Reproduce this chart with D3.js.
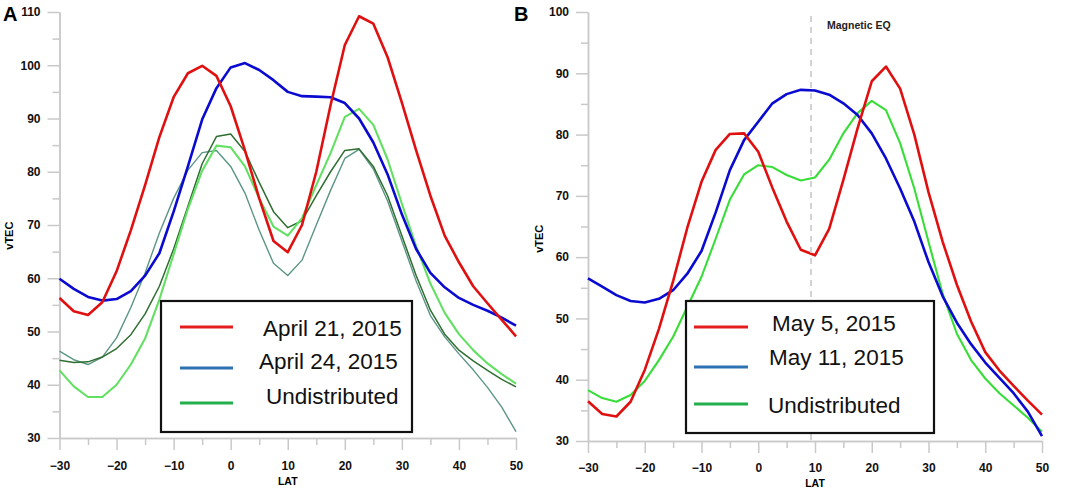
<!DOCTYPE html>
<html>
<head>
<meta charset="utf-8">
<script src="https://cdn.jsdelivr.net/npm/d3@7/dist/d3.min.js"></script>
<style>
	body { margin: 0; background: #fff; }
	svg { display: block; font-family: "Liberation Sans", Arial, sans-serif; }
</style>
</head>
<body>
<svg id="chart" width="1065" height="491"></svg>
<script>
// Data
var lat = [-30, -27.5, -25, -22.5, -20, -17.5, -15, -12.5, -10, -7.5, -5, -2.5, 0, 2.5, 5, 7.5,
	10, 12.5, 15, 17.5, 20, 22.5, 25, 27.5, 30, 32.5, 35, 37.5, 40, 42.5, 45, 47.5, 50];

// Panel A
var april21 = [56.3, 53.8, 53.1, 55.5, 61.3, 69, 77.5, 86.5, 94, 98.5, 99.9, 98, 92.3, 84, 75, 67,
	64.9, 70, 80, 92.5, 103.8, 109.2, 107.8, 101.5, 93, 84, 75.5, 68, 63, 58.5, 55.3, 52.2, 49.1];
var april24 = [59.9, 58, 56.5, 55.8, 56.1, 57.6, 60.5, 64.7, 72.5, 81, 89.8, 95.7, 99.6, 100.4, 99.1, 97.2,
	95, 94.2, 94.1, 94, 92.9, 90, 85.5, 79.5, 72, 65.5, 61, 58.3, 56.3, 55, 53.9, 52.6, 51.1];
var undistA1 = [42.7, 39.7, 37.7, 37.7, 40, 43.8, 48.7, 56, 64.5, 73, 80.2, 84.9, 84.6, 81, 75, 69.7,
	68, 71.3, 77.5, 83.5, 90.3, 91.8, 88.8, 82.3, 74, 66, 59, 53.5, 49.5, 46.5, 44, 42, 40.2];
var undistA2 = [44.6, 44.2, 44.3, 45.2, 46.8, 49.4, 53.3, 58.5, 65.5, 73.5, 81.5, 86.6, 87.1, 83.8, 78, 72.5,
	69.5, 70.8, 75.5, 80, 84, 84.3, 81, 75.5, 68, 60.5, 54, 49.5, 46.5, 44.5, 42.7, 41, 39.6];
var undistA3 = [46.3, 44.7, 43.8, 45.2, 48.8, 54.5, 61, 68.5, 75, 80.3, 83.6, 84, 81, 76, 69, 62.8,
	60.5, 63.4, 70, 76.5, 82.5, 84.2, 80.5, 74.5, 67, 59.5, 53, 49, 45.8, 42.8, 39.5, 35.8, 31.2];

// Panel B
var may5 = [36.5, 34.4, 34, 36.4, 41.6, 48.3, 56.1, 64.8, 72.3, 77.5, 80.1, 80.2, 77.2, 71.3, 65.8, 61.2,
	60.3, 64.6, 72.6, 81, 88.7, 91.1, 87.5, 80, 70.6, 62.5, 55.5, 49.5, 44.5, 41.5, 39, 36.6, 34.3];
var may11 = [56.55, 55.2, 53.8, 52.85, 52.6, 53.2, 54.6, 57.3, 61, 67.3, 74.2, 79.1, 82.1, 85.1, 86.6, 87.3,
	87.2, 86.5, 85.1, 83.2, 80.2, 76.1, 71.2, 65.8, 59.2, 53.6, 49.3, 45.8, 42.8, 40.3, 37.8, 34.8, 30.8];
var undistB = [38.3, 37, 36.4, 37.5, 39.8, 43.2, 47, 51.9, 56.8, 63, 69.4, 73.5, 75, 74.7, 73.4, 72.5,
	73, 75.9, 80.2, 83.5, 85.5, 84, 78.6, 71.2, 62.5, 54, 47.5, 43.2, 40.2, 37.8, 35.8, 33.8, 31.5];

var xTicks = [-30, -20, -10, 0, 10, 20, 30, 40, 50];
var xMinorTicks = [-25, -15, -5, 5, 15, 25, 35, 45];
var yTicksA = [30, 40, 50, 60, 70, 80, 90, 100, 110];
var yMinorA = [35, 45, 55, 65, 75, 85, 95, 105];
var yTicksB = [30, 40, 50, 60, 70, 80, 90, 100];
var yMinorB = [35, 45, 55, 65, 75, 85, 95];

var legendA = ["April 21, 2015", "April 24, 2015", "Undistributed"];
var legendB = ["May 5, 2015", "May 11, 2015", "Undistributed"];
var magneticEq = 9.3;

// Styles
var axisColor = "#c9c9c9",
	legendColors = ["#e41e1e", "#2f72b4", "#23b04c"];

var svg = d3.select("#chart");

var panelA = drawPanel({
	label: "A", labelX: 3,
	xRange: [59.5, 516], yDomain: [30, 110], yRange: [438, 12],
	yTicks: yTicksA, yMinor: yMinorA, xPad: 11,
	vtecX: 13, latY: 485,
	series: [
		{ values: undistA3, color: "#5b9585", width: 1.4 },
		{ values: undistA2, color: "#2f6e31", width: 1.5 },
		{ values: undistA1, color: "#62e062", width: 2.1 },
		{ values: april24, color: "#0a0ad0", width: 2.6 },
		{ values: april21, color: "#e01010", width: 2.6 }
	]
});

var panelB = drawPanel({
	label: "B", labelX: 514,
	xRange: [588, 1042], yDomain: [30, 100], yRange: [441, 12],
	yTicks: yTicksB, yMinor: yMinorB, xPad: 10,
	vtecX: 543, latY: 487,
	series: [
		{ values: undistB, color: "#38dd38", width: 2.1 },
		{ values: may11, color: "#0a0ad0", width: 2.6 },
		{ values: may5, color: "#e01010", width: 2.6 }
	]
});

// Magnetic equator marker on panel B
svg.append("line")
	.attr("x1", panelB.x(magneticEq))
	.attr("x2", panelB.x(magneticEq))
	.attr("y1", panelB.y(100) + 4)
	.attr("y2", panelB.y(30) + 3)
	.attr("stroke", "#c8c8c8")
	.attr("stroke-width", 1.6)
	.attr("stroke-dasharray", "6,5");

svg.append("text")
	.attr("x", panelB.x(magneticEq) + 16)
	.attr("y", 29)
	.attr("font-size", 10.5)
	.attr("font-weight", "bold")
	.attr("fill", "#222")
	.text("Magnetic EQ");

drawLegend(legendA, {
	box: [161, 301, 251, 131],
	lineY: [327, 368, 403], lineX: [180, 233],
	textX: [263, 259, 266], textY: [336, 369, 404]
});

drawLegend(legendB, {
	box: [686, 301, 248, 132],
	lineY: [327, 367, 404], lineX: [694, 748],
	textX: [772, 769, 768], textY: [331, 365, 413]
});

function drawPanel(P) {
	var g = svg.append("g");

	var x = d3.scaleLinear().domain([-30, 50]).range(P.xRange),
		y = d3.scaleLinear().domain(P.yDomain).range(P.yRange);

	// Axes
	var yAxisG = g.append("g")
		.attr("transform", "translate(" + P.xRange[0] + ",0)");

	yAxisG.append("g")
		.call(d3.axisLeft(y).tickValues(P.yMinor).tickSize(7).tickSizeOuter(0).tickFormat(""));

	yAxisG.append("g")
		.call(d3.axisLeft(y).tickValues(P.yTicks).tickSize(12).tickSizeOuter(0).tickPadding(7));

	var xAxisG = g.append("g")
		.attr("transform", "translate(0," + P.yRange[0] + ")");

	xAxisG.append("g")
		.call(d3.axisBottom(x).tickValues(xMinorTicks).tickSize(7).tickSizeOuter(0).tickFormat(""));

	xAxisG.append("g")
		.call(d3.axisBottom(x).tickValues(xTicks).tickSize(12).tickSizeOuter(0).tickPadding(P.xPad));

	g.selectAll(".domain, .tick line")
		.attr("stroke", axisColor)
		.attr("stroke-width", 1.5);

	g.selectAll(".tick text")
		.attr("fill", "#111")
		.attr("font-size", 12)
		.attr("font-weight", "bold")
		.attr("font-family", "'Liberation Sans', Arial, sans-serif");

	// Titles
	g.append("text")
		.attr("transform", "translate(" + P.vtecX + "," + y((P.yDomain[0] + P.yDomain[1]) / 2 - 2) + ") rotate(-90)")
		.attr("text-anchor", "middle")
		.attr("font-size", 11)
		.attr("font-weight", "bold")
		.text("vTEC");

	g.append("text")
		.attr("x", x(10))
		.attr("y", P.latY)
		.attr("text-anchor", "middle")
		.attr("font-size", 10.5)
		.attr("font-weight", "bold")
		.text("LAT");

	g.append("text")
		.attr("x", P.labelX)
		.attr("y", 21)
		.attr("font-size", 20)
		.attr("font-weight", "bold")
		.text(P.label);

	// Lines
	var line = d3.line()
		.x(function (d, i) { return x(lat[i]); })
		.y(function (d) { return y(d); });

	g.selectAll("path.series")
		.data(P.series)
		.enter().append("path")
		.attr("class", "series")
		.attr("d", function (s) { return line(s.values); })
		.attr("fill", "none")
		.attr("stroke", function (s) { return s.color; })
		.attr("stroke-width", function (s) { return s.width; })
		.attr("stroke-linejoin", "round");

	return { x: x, y: y };
}

function drawLegend(names, L) {
	var g = svg.append("g");

	g.append("rect")
		.attr("x", L.box[0])
		.attr("y", L.box[1])
		.attr("width", L.box[2])
		.attr("height", L.box[3])
		.attr("fill", "#fff")
		.attr("stroke", "#111")
		.attr("stroke-width", 2.2);

	g.selectAll("line.key")
		.data(names)
		.enter().append("line")
		.attr("class", "key")
		.attr("x1", L.lineX[0])
		.attr("x2", L.lineX[1])
		.attr("y1", function (d, i) { return L.lineY[i]; })
		.attr("y2", function (d, i) { return L.lineY[i]; })
		.attr("stroke", function (d, i) { return legendColors[i]; })
		.attr("stroke-width", 3.2);

	g.selectAll("text.key")
		.data(names)
		.enter().append("text")
		.attr("class", "key")
		.attr("x", function (d, i) { return L.textX[i]; })
		.attr("y", function (d, i) { return L.textY[i]; })
		.attr("font-size", 22.5)
		.attr("fill", "#111")
		.text(function (d) { return d; });
}
</script>
</body>
</html>
